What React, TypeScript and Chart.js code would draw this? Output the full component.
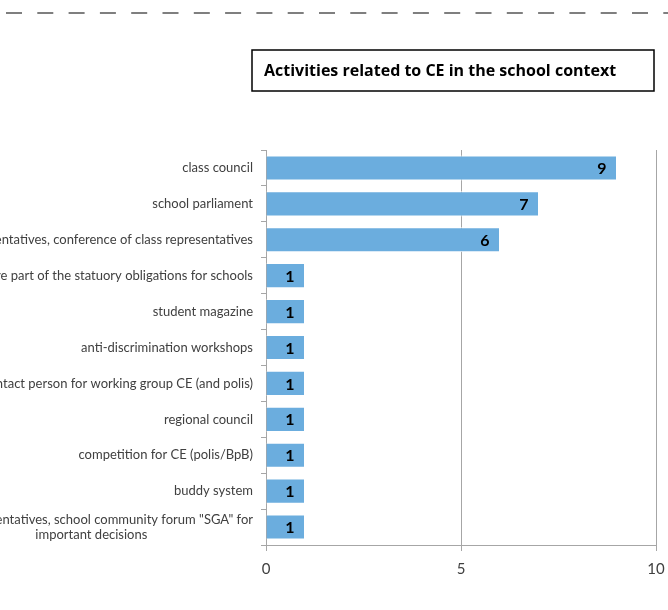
import React, { useEffect, useRef } from "react";
import { Chart, registerables } from "chart.js";

Chart.register(...registerables);

const TITLE = "Activities related to CE in the school context";

const categories: (string | string[])[] = [
  "class council",
  "school parliament",
  "class representatives, conference of class representatives",
  "activities that are part of the statuory obligations for schools",
  "student magazine",
  "anti-discrimination workshops",
  "contact person for working group CE (and polis)",
  "regional council",
  "competition for CE (polis/BpB)",
  "buddy system",
  ["class representatives, school community forum \"SGA\" for", "important decisions"],
];

const values: number[] = [9, 7, 6, 1, 1, 1, 1, 1, 1, 1, 1];

const xTicks: number[] = [0, 5, 10];

const LABEL_FONT = "13px Lato";
const LABEL_COLOR = "#404040";

const decorPlugin = {
  id: "decor",
  beforeDraw(chart: any) {
    const ctx = chart.ctx;
    ctx.save();
    ctx.fillStyle = "#ffffff";
    ctx.fillRect(0, 0, chart.width, chart.height);
    // dashed line at top
    ctx.strokeStyle = "#7f7f7f";
    ctx.lineWidth = 2;
    ctx.setLineDash([16, 15.3]);
    ctx.beginPath();
    ctx.moveTo(6, 13);
    ctx.lineTo(chart.width, 13);
    ctx.stroke();
    ctx.setLineDash([]);
    // title box
    ctx.strokeStyle = "#000000";
    ctx.lineWidth = 1.5;
    ctx.strokeRect(252, 50, 402, 41);
    ctx.fillStyle = "#000000";
    ctx.font = "bold 16px 'Open Sans'";
    ctx.textAlign = "left";
    ctx.textBaseline = "middle";
    ctx.fillText(TITLE, 264, 71);
    ctx.restore();
  },
  afterDraw(chart: any) {
    const ctx = chart.ctx;
    const y = chart.scales.y;
    const x = chart.scales.x;
    ctx.save();
    // category labels
    ctx.font = LABEL_FONT;
    ctx.fillStyle = LABEL_COLOR;
    ctx.textBaseline = "middle";
    ctx.textAlign = "center";
    const rightEdge = chart.chartArea.left - 13;
    const lineH = 15;
    categories.forEach((lab, i) => {
      const lines = Array.isArray(lab) ? lab : [lab];
      const widths = lines.map((l) => ctx.measureText(l).width);
      const w = Math.max(...widths);
      const cx = rightEdge - w / 2;
      const cy = y.getPixelForValue(i);
      const top = cy - ((lines.length - 1) * lineH) / 2;
      lines.forEach((l, j) => ctx.fillText(l, cx, top + j * lineH));
    });
    // data labels
    ctx.font = "bold 16px Lato";
    ctx.fillStyle = "#000000";
    values.forEach((v, i) => {
      const px = x.getPixelForValue(v) - 15;
      ctx.fillText(String(v), px, y.getPixelForValue(i) + 1);
    });
    ctx.restore();
  },
};

export default function App() {
  const ref = useRef<HTMLCanvasElement>(null);
  useEffect(() => {
    if (!ref.current) return;
    const chart = new Chart(ref.current, {
      type: "bar",
      data: {
        labels: categories.map((c) => (Array.isArray(c) ? c.join(" ") : c)),
        datasets: [
          {
            data: values,
            backgroundColor: "#6badde",
            borderColor: "#ffffff",
            borderWidth: 1,
            barPercentage: 0.7,
            categoryPercentage: 1,
          },
        ],
      },
      options: {
        indexAxis: "y",
        responsive: false,
        animation: false,
        layout: { padding: { top: 150, right: 12, left: 0, bottom: 0 } },
        plugins: {
          legend: { display: false },
          tooltip: { enabled: false },
          title: { display: false },
        },
        scales: {
          x: {
            min: 0,
            max: 10,
            afterBuildTicks: (s: any) => {
              s.ticks = xTicks.map((v) => ({ value: v }));
            },
            afterFit: (s: any) => {
              s.height = 65;
              s.paddingLeft = 0;
              s.paddingRight = 0;
            },
            grid: {
              color: "#a6a6a6",
              lineWidth: 1,
              tickLength: 6,
              drawOnChartArea: true,
            },
            border: { color: "#a6a6a6", width: 1 },
            ticks: {
              padding: 9,
              color: LABEL_COLOR,
              font: { family: "Lato", size: 15 },
              maxRotation: 0,
            },
          },
          y: {
            afterFit: (s: any) => {
              s.width = 266;
              s.paddingTop = 0;
              s.paddingBottom = 0;
            },
            grid: {
              offset: true,
              drawOnChartArea: false,
              drawTicks: true,
              tickLength: 5,
              color: "#a6a6a6",
            },
            border: { color: "#a6a6a6", width: 1 },
            ticks: { display: false },
          },
        },
      },
      plugins: [decorPlugin],
    });
    return () => chart.destroy();
  }, []);
  return (
    <canvas
      ref={ref}
      width={668}
      height={610}
      style={{ position: "absolute", left: 0, top: 0, display: "block" }}
    />
  );
}
